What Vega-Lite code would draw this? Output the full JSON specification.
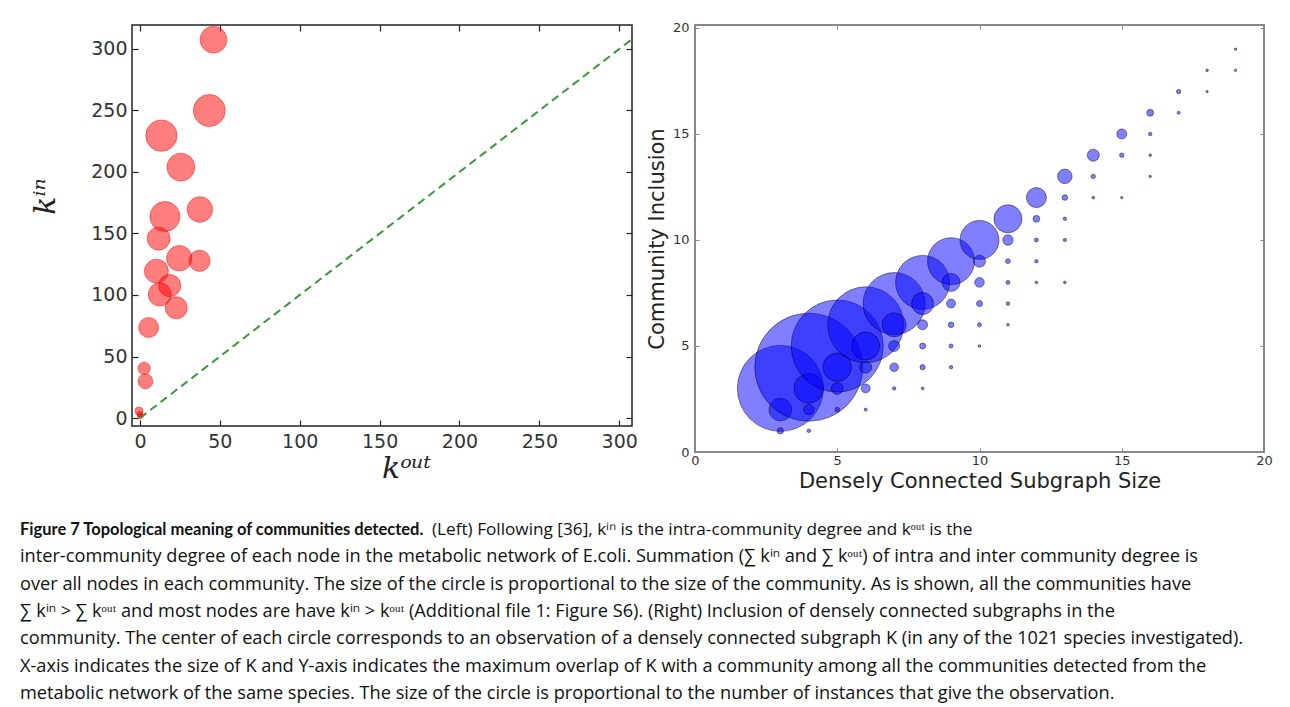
{
  "$schema": "https://vega.github.io/schema/vega-lite/v6.json",
  "background": "white",
  "padding": {"left": 20, "top": 20, "right": 5, "bottom": 0},
  "config": {"font": "DejaVu Sans"},
  "datasets": {
    "communities": [
      {"k_out": 46.0, "k_in": 307.6, "community_size": 180},
      {"k_out": 43.4, "k_in": 250.0, "community_size": 256},
      {"k_out": 13.4, "k_in": 229.6, "community_size": 246},
      {"k_out": 25.6, "k_in": 204.0, "community_size": 194},
      {"k_out": 15.6, "k_in": 163.8, "community_size": 225},
      {"k_out": 37.5, "k_in": 169.5, "community_size": 162},
      {"k_out": 11.7, "k_in": 145.8, "community_size": 132},
      {"k_out": 24.6, "k_in": 129.9, "community_size": 161},
      {"k_out": 37.3, "k_in": 127.8, "community_size": 112},
      {"k_out": 10.3, "k_in": 119.4, "community_size": 144},
      {"k_out": 18.6, "k_in": 107.6, "community_size": 124},
      {"k_out": 12.4, "k_in": 100.5, "community_size": 134},
      {"k_out": 22.7, "k_in": 89.6, "community_size": 121},
      {"k_out": 5.4, "k_in": 73.6, "community_size": 100},
      {"k_out": 2.6, "k_in": 40.4, "community_size": 38},
      {"k_out": 3.4, "k_in": 29.8, "community_size": 55},
      {"k_out": -0.6, "k_in": 5.7, "community_size": 16},
      {"k_out": 0.0, "k_in": 3.0, "community_size": 9},
      {"k_out": 0.2, "k_in": 1.5, "community_size": 6},
      {"k_out": 1.0, "k_in": 2.0, "community_size": 4}
    ],
    "diagonal": [
      {"k_out": 0, "k_in": 0},
      {"k_out": 320, "k_in": 320}
    ],
    "subgraphs": [
      {"size": 3, "inclusion": 3, "instances": 1849},
      {"size": 3, "inclusion": 2, "instances": 128},
      {"size": 3, "inclusion": 1, "instances": 10},
      {"size": 4, "inclusion": 4, "instances": 2916},
      {"size": 4, "inclusion": 3, "instances": 219},
      {"size": 4, "inclusion": 2, "instances": 27},
      {"size": 4, "inclusion": 1, "instances": 3.2},
      {"size": 5, "inclusion": 5, "instances": 2116},
      {"size": 5, "inclusion": 4, "instances": 204},
      {"size": 5, "inclusion": 3, "instances": 36},
      {"size": 5, "inclusion": 2, "instances": 5.3},
      {"size": 6, "inclusion": 6, "instances": 1444},
      {"size": 6, "inclusion": 5, "instances": 196},
      {"size": 6, "inclusion": 4, "instances": 36},
      {"size": 6, "inclusion": 3, "instances": 20},
      {"size": 6, "inclusion": 2, "instances": 2.3},
      {"size": 7, "inclusion": 7, "instances": 961},
      {"size": 7, "inclusion": 6, "instances": 144},
      {"size": 7, "inclusion": 5, "instances": 30},
      {"size": 7, "inclusion": 4, "instances": 18.5},
      {"size": 7, "inclusion": 3, "instances": 2.9},
      {"size": 8, "inclusion": 8, "instances": 729},
      {"size": 8, "inclusion": 7, "instances": 121},
      {"size": 8, "inclusion": 6, "instances": 25},
      {"size": 8, "inclusion": 5, "instances": 9},
      {"size": 8, "inclusion": 4, "instances": 6.8},
      {"size": 8, "inclusion": 3, "instances": 2},
      {"size": 9, "inclusion": 9, "instances": 552},
      {"size": 9, "inclusion": 8, "instances": 81},
      {"size": 9, "inclusion": 7, "instances": 20},
      {"size": 9, "inclusion": 6, "instances": 7.8},
      {"size": 9, "inclusion": 5, "instances": 4},
      {"size": 9, "inclusion": 4, "instances": 2.9},
      {"size": 10, "inclusion": 10, "instances": 380},
      {"size": 10, "inclusion": 9, "instances": 36},
      {"size": 10, "inclusion": 8, "instances": 23},
      {"size": 10, "inclusion": 7, "instances": 9},
      {"size": 10, "inclusion": 6, "instances": 4},
      {"size": 10, "inclusion": 5, "instances": 1.7},
      {"size": 11, "inclusion": 11, "instances": 196},
      {"size": 11, "inclusion": 10, "instances": 27},
      {"size": 11, "inclusion": 9, "instances": 5.8},
      {"size": 11, "inclusion": 8, "instances": 4},
      {"size": 11, "inclusion": 7, "instances": 3.2},
      {"size": 11, "inclusion": 6, "instances": 1.7},
      {"size": 12, "inclusion": 12, "instances": 100},
      {"size": 12, "inclusion": 11, "instances": 11.6},
      {"size": 12, "inclusion": 10, "instances": 4},
      {"size": 12, "inclusion": 9, "instances": 2.9},
      {"size": 12, "inclusion": 8, "instances": 1.7},
      {"size": 13, "inclusion": 13, "instances": 53},
      {"size": 13, "inclusion": 12, "instances": 7.8},
      {"size": 13, "inclusion": 11, "instances": 2.9},
      {"size": 13, "inclusion": 10, "instances": 2.6},
      {"size": 13, "inclusion": 8, "instances": 1.7},
      {"size": 14, "inclusion": 14, "instances": 36},
      {"size": 14, "inclusion": 13, "instances": 4.8},
      {"size": 14, "inclusion": 12, "instances": 2},
      {"size": 15, "inclusion": 15, "instances": 25},
      {"size": 15, "inclusion": 14, "instances": 4.8},
      {"size": 15, "inclusion": 12, "instances": 1.4},
      {"size": 16, "inclusion": 16, "instances": 11.6},
      {"size": 16, "inclusion": 15, "instances": 3.2},
      {"size": 16, "inclusion": 14, "instances": 1.7},
      {"size": 16, "inclusion": 13, "instances": 1.4},
      {"size": 17, "inclusion": 17, "instances": 4.8},
      {"size": 17, "inclusion": 16, "instances": 2.3},
      {"size": 18, "inclusion": 18, "instances": 1.7},
      {"size": 18, "inclusion": 17, "instances": 1.4},
      {"size": 19, "inclusion": 19, "instances": 1.4},
      {"size": 19, "inclusion": 18, "instances": 1.4}
    ],
    "caption": [
      {"line": 1, "part": "bold", "text": "Figure 7 Topological meaning of communities detected."},
      {"line": 1, "part": "rest", "text": "(Left) Following [36], kⁱⁿ is the intra-community degree and kᵒᵘᵗ is the"},
      {"line": 2, "part": "plain", "text": "inter-community degree of each node in the metabolic network of E.coli. Summation (∑ kⁱⁿ and ∑ kᵒᵘᵗ) of intra and inter community degree is"},
      {"line": 3, "part": "plain", "text": "over all nodes in each community. The size of the circle is proportional to the size of the community. As is shown, all the communities have"},
      {"line": 4, "part": "plain", "text": "∑ kⁱⁿ > ∑ kᵒᵘᵗ and most nodes are have kⁱⁿ > kᵒᵘᵗ (Additional file 1: Figure S6). (Right) Inclusion of densely connected subgraphs in the"},
      {"line": 5, "part": "plain", "text": "community. The center of each circle corresponds to an observation of a densely connected subgraph K (in any of the 1021 species investigated)."},
      {"line": 6, "part": "plain", "text": "X-axis indicates the size of K and Y-axis indicates the maximum overlap of K with a community among all the communities detected from the"},
      {"line": 7, "part": "plain", "text": "metabolic network of the same species. The size of the circle is proportional to the number of instances that give the observation."}
    ]
  },
  "spacing": 24,
  "vconcat": [
    {
      "spacing": 6,
      "resolve": {"scale": {"size": "independent"}},
      "hconcat": [
        {
          "width": 500,
          "height": 401,
          "view": {"stroke": "#222222", "strokeWidth": 1.5},
          "resolve": {"axis": {"x": "independent", "y": "independent"}},
          "layer": [
            {
              "data": {"name": "communities"},
              "mark": {"type": "circle", "fill": "#ff0000", "fillOpacity": 0.5, "stroke": "#ff0000", "strokeOpacity": 0.45, "strokeWidth": 1},
              "encoding": {
                "x": {"field": "k_out", "type": "quantitative", "scale": {"domain": [-5, 308], "nice": false, "zero": false},
                  "axis": {"orient": "bottom", "values": [0, 50, 100, 150, 200, 250, 300], "title": "kᵒᵘᵗ", "titleFont": "DejaVu Serif", "titleFontStyle": "italic", "titleFontWeight": "normal", "titleFontSize": 30, "titleColor": "#222222", "titlePadding": 2, "titleX": 274, "titleAlign": "center", "labelFontSize": 19, "labelColor": "#333333", "labelPadding": 12, "labelFlush": false, "labelOverlap": false, "tickSize": -6, "tickColor": "#222222", "tickWidth": 1.2, "domain": false, "grid": false}},
                "y": {"field": "k_in", "type": "quantitative", "scale": {"domain": [-6.5, 319.5], "nice": false, "zero": false},
                  "axis": {"orient": "left", "values": [0, 50, 100, 150, 200, 250, 300], "title": "kⁱⁿ", "titleFont": "DejaVu Serif", "titleFontStyle": "italic", "titleFontWeight": "normal", "titleFontSize": 30, "titleColor": "#222222", "titlePadding": 30, "titleY": 171, "titleAlign": "center", "labelFontSize": 19, "labelColor": "#333333", "labelPadding": 11, "labelFlush": false, "labelOverlap": false, "tickSize": -6, "tickColor": "#222222", "tickWidth": 1.2, "domain": false, "grid": false}},
                "size": {"field": "community_size", "type": "quantitative", "scale": {"domain": [0, 256], "range": [0, 1024]}, "legend": null}
              }
            },
            {
              "data": {"name": "diagonal"},
              "mark": {"type": "line", "color": "#3a963a", "strokeDash": [8, 5], "strokeWidth": 2, "clip": true},
              "encoding": {
                "x": {"field": "k_out", "type": "quantitative", "axis": null},
                "y": {"field": "k_in", "type": "quantitative", "axis": null}
              }
            },
            {
              "data": {"name": "diagonal"},
              "mark": {"type": "point", "opacity": 0, "clip": true},
              "encoding": {
                "x": {"field": "k_out", "type": "quantitative",
                  "axis": {"orient": "top", "values": [0, 50, 100, 150, 200, 250, 300], "title": null, "labels": false, "tickSize": -6, "tickColor": "#222222", "tickWidth": 1.2, "domain": false, "grid": false}},
                "y": {"field": "k_in", "type": "quantitative",
                  "axis": {"orient": "right", "values": [0, 50, 100, 150, 200, 250, 300], "title": null, "labels": false, "tickSize": -6, "tickColor": "#222222", "tickWidth": 1.2, "domain": false, "grid": false}}
              }
            }
          ]
        },
        {
          "width": 569,
          "height": 427,
          "view": {"stroke": "#888888", "strokeWidth": 2},
          "resolve": {"axis": {"x": "independent", "y": "independent"}},
          "data": {"name": "subgraphs"},
          "layer": [
            {
              "mark": {"type": "circle", "fill": "#0000ff", "fillOpacity": 0.5, "stroke": "#000000", "strokeOpacity": 0.45, "strokeWidth": 1},
              "encoding": {
                "x": {"field": "size", "type": "quantitative", "scale": {"domain": [0, 20], "nice": false, "zero": false},
                  "axis": {"orient": "bottom", "values": [0, 5, 10, 15, 20], "title": "Densely Connected Subgraph Size", "titleFontSize": 21, "titleFontWeight": "normal", "titleColor": "#222222", "titlePadding": 3, "labelFontSize": 13, "labelColor": "#333333", "labelPadding": 6, "labelFlush": false, "labelOverlap": false, "tickSize": -4, "tickColor": "#888888", "domain": false, "grid": false}},
                "y": {"field": "inclusion", "type": "quantitative", "scale": {"domain": [0, 20.14], "nice": false, "zero": false},
                  "axis": {"orient": "left", "values": [0, 5, 10, 15, 20], "title": "Community Inclusion", "titleFontSize": 21, "titleFontWeight": "normal", "titleColor": "#222222", "titlePadding": 5, "labelFontSize": 13, "labelColor": "#333333", "labelPadding": 10, "labelFlush": false, "labelOverlap": false, "tickSize": -4, "tickColor": "#888888", "domain": false, "grid": false}},
                "size": {"field": "instances", "type": "quantitative", "scale": {"domain": [0, 2916], "range": [0, 11664]}, "legend": null}
              }
            },
            {
              "mark": {"type": "point", "opacity": 0},
              "encoding": {
                "x": {"field": "size", "type": "quantitative",
                  "axis": {"orient": "top", "values": [0, 5, 10, 15, 20], "title": null, "labels": false, "tickSize": -4, "tickColor": "#888888", "domain": false, "grid": false}},
                "y": {"field": "inclusion", "type": "quantitative",
                  "axis": {"orient": "right", "values": [0, 5, 10, 15, 20], "title": null, "labels": false, "tickSize": -4, "tickColor": "#888888", "domain": false, "grid": false}}
              }
            }
          ]
        }
      ]
    },
    {
      "width": 1250,
      "height": 192,
      "view": {"stroke": null},
      "data": {"name": "caption"},
      "encoding": {
        "y": {"field": "line", "type": "ordinal", "axis": null, "scale": {"paddingInner": 0, "paddingOuter": 0}},
        "x": {"value": -112},
        "text": {"field": "text"}
      },
      "layer": [
        {
          "transform": [{"filter": "datum.part == 'bold'"}],
          "mark": {"type": "text", "align": "left", "baseline": "middle", "font": "Lato", "fontSize": 16.5, "fontWeight": "bold", "color": "#111111"}
        },
        {
          "transform": [{"filter": "datum.part == 'rest'"}],
          "mark": {"type": "text", "align": "left", "baseline": "middle", "font": "Open Sans", "fontSize": 17.2, "color": "#111111", "dx": 412}
        },
        {
          "transform": [{"filter": "datum.part == 'plain'"}],
          "mark": {"type": "text", "align": "left", "baseline": "middle", "font": "Open Sans", "fontSize": 18.2, "color": "#111111"}
        }
      ]
    }
  ]
}
